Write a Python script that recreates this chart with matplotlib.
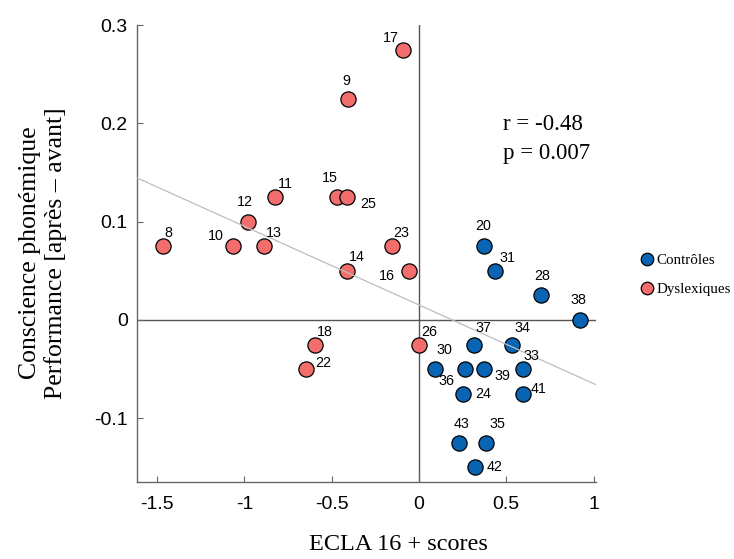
import numpy as np
import matplotlib
matplotlib.use("Agg")
import matplotlib.pyplot as plt
from matplotlib.lines import Line2D

# ---------------- data ----------------
dys_ids = [8, 10, 12, 13, 11, 15, 25, 9, 17, 23, 14, 16, 18, 22, 26]
dys_x = [-1.468, -1.067, -0.981, -0.886, -0.825, -0.471, -0.414, -0.405,
         -0.090, -0.153, -0.412, -0.056, -0.596, -0.647, 0.0]
dys_y = [0.075, 0.075, 0.100, 0.075, 0.125, 0.125, 0.125, 0.225,
         0.275, 0.075, 0.050, 0.050, -0.025, -0.050, -0.025]

ctl_ids = [20, 31, 28, 38, 37, 34, 30, 36, 39, 33, 24, 41, 43, 35, 42]
ctl_x = [0.374, 0.435, 0.701, 0.922, 0.313, 0.535, 0.092, 0.263,
         0.374, 0.594, 0.250, 0.596, 0.229, 0.382, 0.321]
ctl_y = [0.075, 0.050, 0.025, 0.000, -0.025, -0.025, -0.050, -0.050,
         -0.050, -0.050, -0.075, -0.075, -0.125, -0.125, -0.150]

group_labels = ["Contrôles", "Dyslexiques"]
stats_text = ["r = -0.48", "p = 0.007"]
x_ticks = [-1.5, -1, -0.5, 0, 0.5, 1]
x_ticklabels = ["-1.5", "-1", "-0.5", "0", "0.5", "1"]
y_ticks = [-0.1, 0, 0.1, 0.2, 0.3]
y_ticklabels = ["-0.1", "0", "0.1", "0.2", "0.3"]
xlabel = "ECLA 16 + scores"
ylabel = "Conscience phonémique\nPerformance [après – avant]"

# label offsets (pixels) relative to marker centres
label_off = {
    8: (6, 13), 10: (-17, 10), 12: (-3, 20), 13: (10, 13), 11: (10, 13),
    15: (-7, 19), 25: (21, -7), 9: (-2, 18), 17: (-12, 12), 23: (9, 13),
    14: (10, 14), 16: (-22, -5), 18: (10, 13), 22: (17, 6), 26: (10, 13),
    20: (-1, 20), 31: (13, 13), 28: (1, 19), 38: (-2, 20), 37: (10, 17),
    34: (10, 17), 30: (9, 19), 36: (-18, -12), 39: (18, -7), 33: (9, 13),
    24: (21, 0), 41: (16, 5), 43: (3, 19), 35: (12, 19), 42: (20, 0),
}

RED = "#F26D6C"
BLUE = "#0A64B4"
SANS = "Liberation Sans"
SERIF = "Liberation Serif"

fig = plt.figure(figsize=(7.34, 5.59), dpi=100)
ax = fig.add_axes([136.7 / 734, 1 - 481.7 / 559, (596 - 136.7) / 734, (481.7 - 25) / 559])

xlim = (-1.617, 1.014)
ylim = (-0.1645, 0.3)
ax.set_xlim(*xlim)
ax.set_ylim(*ylim)

# zero lines
ax.axvline(0, color="#555555", lw=1.0, zorder=1)
ax.axhline(0, color="#555555", lw=1.0, zorder=1)

# regression line from the data
all_x = np.array(dys_x + ctl_x)
all_y = np.array(dys_y + ctl_y)
slope, icpt = np.polyfit(all_x, all_y, 1)
xx = np.array(xlim)
ax.plot(xx, slope * xx + icpt, color="#BDBDBD", lw=0.9, zorder=4)

ax.scatter(dys_x, dys_y, s=120, c=RED, edgecolors="black", linewidths=0.9, zorder=3)
ax.scatter(ctl_x, ctl_y, s=120, c=BLUE, edgecolors="black", linewidths=0.9, zorder=3)

for ids, xs, ys in [(dys_ids, dys_x, dys_y), (ctl_ids, ctl_x, ctl_y)]:
    for i, x, y in zip(ids, xs, ys):
        dx, dy = label_off[i]
        ax.annotate(str(i), (x, y), xytext=(dx, dy), textcoords="offset pixels",
                    ha="center", va="center", fontsize=10.3, family=SANS, zorder=5)

for s in ["top", "right"]:
    ax.spines[s].set_visible(False)
for s in ["left", "bottom"]:
    ax.spines[s].set_color("#666666")
    ax.spines[s].set_linewidth(1.0)

ax.set_xticks(x_ticks)
ax.set_xticklabels(x_ticklabels, family=SANS, fontsize=14)
ax.set_yticks(y_ticks)
ax.set_yticklabels(y_ticklabels, family=SANS, fontsize=14)
ax.tick_params(axis="both", direction="in", length=4, width=0.8, color="#666666")
ax.tick_params(axis="x", pad=10)
ax.tick_params(axis="y", pad=6.5)

fig.text(398 / 734, 1 - 545 / 559, xlabel, ha="center", va="center",
         family=SERIF, fontsize=17.5)
fig.text(43 / 734, 1 - 253 / 559, ylabel, ha="center", va="center",
         rotation=90, family=SERIF, fontsize=18.5, linespacing=1.15)

for k, t in enumerate(stats_text):
    fig.text(503 / 734, 1 - (125 + 28 * k) / 559, t, ha="left", va="center",
             family=SERIF, fontsize=16.5)

handles = [
    Line2D([], [], ls="none", marker="o", ms=9, mfc=BLUE, mec="black", mew=0.9),
    Line2D([], [], ls="none", marker="o", ms=9, mfc=RED, mec="black", mew=0.9),
]
fig.legend(handles, group_labels, loc="upper left", bbox_to_anchor=(0.871, 0.546),
           frameon=False, prop={"family": SERIF, "size": 10.8}, handlelength=1.0,
           handletextpad=0.15, labelspacing=1.0, borderpad=0, borderaxespad=0)

fig.savefig("out.png", dpi=100)
